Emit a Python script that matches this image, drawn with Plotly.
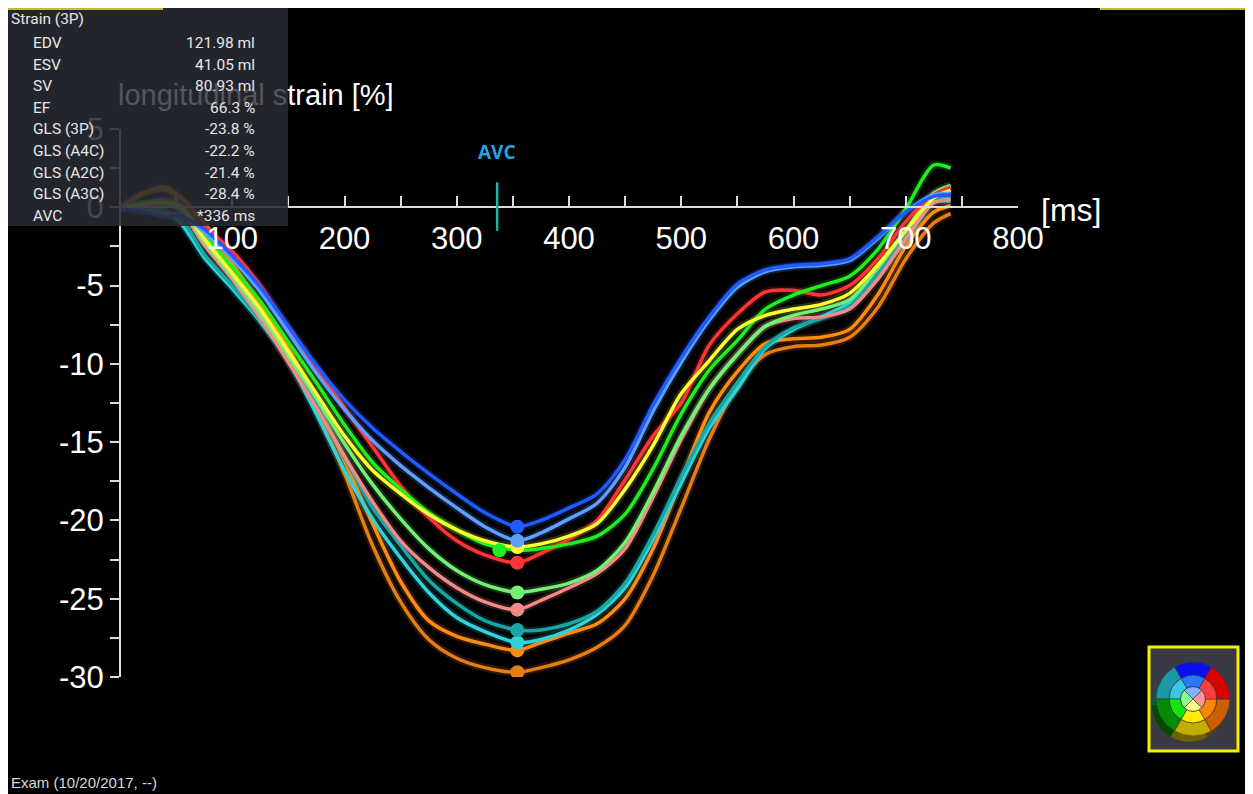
import plotly.graph_objects as go

# page body keeps an 8px margin, so the figure is sized to fit the viewport
PAGE_W, PAGE_H, BODY = 1253, 794, 8
W, H = PAGE_W - BODY, PAGE_H - BODY

# ---------------- data ----------------
time_ms = [0, 20, 40, 55, 75, 100, 125, 150, 175, 200, 225, 250, 275, 300, 325, 354,
           375, 400, 425, 450, 475, 500, 525, 550, 575, 600, 625, 650, 675, 700, 725, 740]

seg_names = ["dark orange", "orange", "cyan", "teal", "pink", "light green",
             "red", "green", "yellow", "light blue", "blue"]
seg_colors = ["#e67e14", "#ff8c10", "#2fd3dc", "#1aa5a5", "#f28a88", "#74f074",
              "#ff3434", "#1fee1f", "#ffff33", "#5f9fff", "#1f5bff"]

strain_dark_orange = [0, 0.8, 1.1, 0.4, -1.2, -3.8, -6.5, -9.4, -13.0, -17.0, -21.6, -25.2, -27.6, -28.8, -29.4, -29.7,
                      -29.4, -28.9, -28.1, -26.7, -23.5, -19.2, -14.8, -11.4, -9.4, -8.9, -8.8, -8.3, -6.4, -3.3, -1.0, -0.4]
strain_orange = [0, 0.9, 1.3, 0.6, -1.0, -3.6, -6.2, -9.0, -12.4, -16.2, -20.2, -23.9, -26.4, -27.4, -27.9, -28.3,
                 -27.8, -27.2, -26.6, -25.0, -21.8, -17.4, -13.1, -10.5, -8.7, -8.4, -8.3, -7.8, -5.6, -2.5, -0.3, 0.1]
strain_cyan = [0, -0.1, -0.3, -1.1, -3.2, -5.2, -7.3, -9.8, -13.2, -16.8, -19.9, -22.4, -24.6, -26.2, -27.1, -27.8,
               -27.6, -27.0, -26.0, -24.3, -21.2, -17.6, -14.1, -11.6, -9.0, -7.8, -7.0, -6.1, -4.4, -2.1, 0.3, 0.4]
strain_teal = [0, 0.0, -0.2, -0.8, -3.0, -5.0, -7.2, -9.5, -12.6, -16.0, -19.2, -21.6, -23.8, -25.3, -26.4, -27.0,
               -27.0, -26.6, -25.8, -24.0, -20.9, -17.2, -13.8, -11.2, -8.9, -7.7, -7.1, -6.3, -4.3, -1.8, 0.4, 0.6]
strain_pink = [0, 0.2, 0.3, -0.3, -2.4, -4.6, -7.1, -9.9, -12.8, -15.9, -18.8, -21.3, -23.0, -24.3, -25.2, -25.7,
               -25.1, -24.3, -23.4, -21.8, -18.5, -14.8, -11.6, -9.4, -7.6, -7.1, -7.0, -6.5, -4.6, -2.0, 0.3, 0.5]
strain_light_green = [0, 0.2, 0.2, -0.2, -2.2, -4.4, -6.8, -9.5, -12.2, -15.1, -17.7, -19.9, -21.8, -23.2, -24.1, -24.6,
                      -24.4, -24.0, -23.2, -21.4, -18.2, -14.6, -11.6, -9.4, -7.6, -6.9, -6.5, -5.9, -3.9, -1.5, 0.9, 1.4]
strain_red = [0, 0.3, 0.5, 0.3, -1.2, -2.8, -5.0, -7.7, -10.2, -12.8, -15.3, -17.8, -19.8, -21.3, -22.2, -22.7,
              -22.1, -21.2, -20.0, -17.4, -14.6, -12.5, -8.8, -6.8, -5.4, -5.3, -5.6, -5.0, -3.3, -0.9, 0.8, 1.3]
strain_green = [0, 0.3, 0.4, 0.1, -1.8, -3.8, -6.0, -8.6, -11.2, -13.9, -16.3, -18.0, -19.5, -20.6, -21.5, -21.9,
                -21.8, -21.5, -21.0, -19.6, -16.7, -13.2, -10.4, -8.5, -6.5, -5.6, -5.0, -4.4, -2.7, -0.1, 2.7, 2.5]
strain_yellow = [0, 0.2, 0.3, 0.0, -2.0, -4.2, -6.5, -9.2, -11.9, -14.6, -16.8, -18.3, -19.6, -20.6, -21.3, -21.7,
                 -21.5, -21.0, -20.2, -18.0, -15.2, -11.9, -9.8, -7.8, -6.9, -6.5, -6.2, -5.5, -3.7, -1.5, 0.6, 1.1]
strain_light_blue = [0, -0.2, -0.4, -0.5, -1.6, -3.3, -5.4, -8.0, -10.6, -12.9, -14.9, -16.5, -17.9, -19.2, -20.4, -21.3,
                     -20.8, -19.9, -18.9, -16.6, -13.0, -9.9, -7.2, -5.1, -4.1, -3.8, -3.7, -3.4, -2.0, -0.3, 0.8, 0.9]
strain_blue = [0, -0.3, -0.6, -0.6, -1.4, -3.1, -5.1, -7.6, -10.1, -12.3, -14.1, -15.6, -17.0, -18.3, -19.5, -20.4,
               -20.0, -19.2, -18.3, -16.1, -12.6, -9.6, -7.0, -4.9, -4.0, -3.7, -3.6, -3.3, -1.9, -0.3, 0.7, 0.8]

seg_strain = [strain_dark_orange, strain_orange, strain_cyan, strain_teal, strain_pink,
              strain_light_green, strain_red, strain_green, strain_yellow, strain_light_blue, strain_blue]

peak_ms = [354, 354, 354, 354, 354, 354, 354, 338, 354, 354, 354]
peak_strain = [-29.7, -28.3, -27.8, -27.0, -25.7, -24.6, -22.7, -21.9, -21.7, -21.3, -20.4]

avc_ms = 336

x_tick_vals = [50, 100, 150, 200, 250, 300, 350, 400, 450, 500, 550, 600, 650, 700, 750, 800]
x_tick_text = ["", "100", "", "200", "", "300", "", "400", "", "500", "", "600", "", "700", "", "800"]
y_tick_vals = [5, 2.5, 0, -2.5, -5, -7.5, -10, -12.5, -15, -17.5, -20, -22.5, -25, -27.5, -30]
y_tick_text = ["5", "", "0", "", "-5", "", "-10", "", "-15", "", "-20", "", "-25", "", "-30"]

info_title = "Strain (3P)"
info_labels = ["EDV", "ESV", "SV", "EF", "GLS (3P)", "GLS (A4C)", "GLS (A2C)", "GLS (A3C)", "AVC"]
info_values = ["121.98 ml", "41.05 ml", "80.93 ml", "66.3 %", "-23.8 %", "-22.2 %", "-21.4 %", "-28.4 %", "*336 ms"]

# bullseye segments (outer basal ring, mid ring, apical ring)
bull_outer_theta = [90, 150, 210, 270, 330, 30]
bull_outer_colors = ["#0a0ff0", "#1a9aa6", "#058a05", "#c4ac00", "#cc6000", "#d80000"]
bull_side_colors = ["#05087a", "#0d5560", "#034a03", "#6e6000", "#703500", "#760000"]
bull_mid_colors = ["#2a78ff", "#3cc8e4", "#10e610", "#ffec00", "#ff8400", "#ff3c3c"]
bull_apex_theta = [90, 180, 270, 0]
bull_apex_colors = ["#80b2ff", "#8cff8c", "#ffff8a", "#ff9494"]


# ---------------- helpers (screen pixel -> paper) ----------------
def px(x):
    return (x - BODY) / W


def py(y):
    return 1 - (y - BODY) / H


x_dom = [px(120), px(1018)]
y_dom = [py(677), py(129)]
y_range = [-30, 5]
x_range = [0, 800]
zero_pos = y_dom[0] + (0 - y_range[0]) / (y_range[1] - y_range[0]) * (y_dom[1] - y_dom[0])

fig = go.Figure()

for name, col, vals in zip(seg_names, seg_colors, seg_strain):
    fig.add_trace(go.Scatter(x=time_ms, y=vals, mode="lines", hoverinfo="skip",
                             line=dict(color=col, width=8, shape="spline", smoothing=0.8),
                             opacity=0.18, showlegend=False))
for name, col, vals in zip(seg_names, seg_colors, seg_strain):
    fig.add_trace(go.Scatter(x=time_ms, y=vals, mode="lines", name=name,
                             line=dict(color=col, width=3.5, shape="spline", smoothing=0.8),
                             showlegend=False))
for name, col, t, v in zip(seg_names, seg_colors, peak_ms, peak_strain):
    fig.add_trace(go.Scatter(x=[t], y=[v], mode="markers", name=name + " peak",
                             marker=dict(color=col, size=14, line=dict(width=0)),
                             showlegend=False))

# bullseye: darker "side" disc first (polar), then the face (polar2)
fig.add_trace(go.Barpolar(theta=bull_outer_theta, r=[36] * 6, base=[0] * 6, width=[60] * 6,
                          marker=dict(color=bull_side_colors, line=dict(width=0)),
                          subplot="polar", showlegend=False, hoverinfo="skip"))
fig.add_trace(go.Barpolar(theta=bull_outer_theta, r=[13] * 6, base=[23] * 6, width=[60] * 6,
                          marker=dict(color=bull_outer_colors, line=dict(color="#333333", width=0.6)),
                          subplot="polar2", showlegend=False, hoverinfo="skip"))
fig.add_trace(go.Barpolar(theta=bull_outer_theta, r=[11] * 6, base=[12] * 6, width=[60] * 6,
                          marker=dict(color=bull_mid_colors, line=dict(color="#333333", width=0.6)),
                          subplot="polar2", showlegend=False, hoverinfo="skip"))
fig.add_trace(go.Barpolar(theta=bull_apex_theta, r=[12] * 4, base=[0] * 4, width=[90] * 4,
                          marker=dict(color=bull_apex_colors, line=dict(color="#333333", width=0.6)),
                          subplot="polar2", showlegend=False, hoverinfo="skip"))

axis_col = "#dcdcdc"
tick_font = dict(family="Liberation Sans, Arial", size=31, color="#ffffff")

shapes = [
    dict(type="rect", xref="paper", yref="paper", x0=px(1149), x1=px(1238), y0=py(751), y1=py(647),
         fillcolor="#3a3a46", line=dict(color="#f2f200", width=3), layer="below"),
    dict(type="line", xref="x", yref="y", x0=avc_ms, x1=avc_ms, y0=-1.5, y1=1.6,
         line=dict(color="#1ab4a4", width=2.5), layer="above"),
    dict(type="rect", xref="paper", yref="paper", x0=px(8), x1=px(288), y0=py(226), y1=1,
         fillcolor="rgba(40,42,50,0.87)", line=dict(width=0), layer="above"),
    dict(type="rect", xref="paper", yref="paper", x0=0, x1=px(163), y0=py(10), y1=1,
         fillcolor="#c4bc2c", line=dict(width=0), layer="above"),
    dict(type="rect", xref="paper", yref="paper", x0=px(1100), x1=1, y0=py(10), y1=1,
         fillcolor="#c4bc2c", line=dict(width=0), layer="above"),
]

annotations = [
    dict(xref="paper", yref="paper", x=px(116), y=py(95), xanchor="left", yanchor="middle",
         text="<span style='color:#55565d'>longitudinal s</span>train [%]", showarrow=False,
         font=dict(family="Liberation Sans, Arial", size=29, color="#ffffff")),
    dict(xref="paper", yref="paper", x=px(1039), y=py(210), xanchor="left", yanchor="middle",
         text="[ms]", showarrow=False, font=dict(family="Liberation Sans, Arial", size=32, color="#ffffff")),
    dict(xref="x", yref="paper", x=avc_ms, y=py(152), xanchor="center", yanchor="middle",
         text="<b>AVC</b>", showarrow=False, font=dict(family="Open Sans, Lato", size=19, color="#1ea6e2")),
    dict(xref="paper", yref="paper", x=px(9), y=py(782), xanchor="left", yanchor="middle",
         text="Exam (10/20/2017, --)", showarrow=False,
         font=dict(family="Liberation Sans, Arial", size=15, color="#d8d8d8")),
    dict(xref="paper", yref="paper", x=px(9), y=py(19), xanchor="left", yanchor="middle",
         text=info_title, showarrow=False, font=dict(family="Roboto", size=15.5, color="#e6e6e6")),
]
row_y0, row_step = 43, 21.6
for i, (lab, val) in enumerate(zip(info_labels, info_values)):
    yy = py(row_y0 + i * row_step)
    annotations.append(dict(xref="paper", yref="paper", x=px(31), y=yy, xanchor="left", yanchor="middle",
                            text=lab, showarrow=False, font=dict(family="Roboto", size=15.5, color="#e6e6e6")))
    annotations.append(dict(xref="paper", yref="paper", x=px(257), y=yy, xanchor="right", yanchor="middle",
                            text=val, showarrow=False, font=dict(family="Roboto", size=15.5, color="#e6e6e6")))

hidden_polar = dict(bgcolor="rgba(0,0,0,0)",
                    radialaxis=dict(visible=False, range=[0, 36]),
                    angularaxis=dict(visible=False))

fig.update_layout(
    width=W, height=H,
    margin=dict(l=0, r=0, t=0, b=0, pad=0, autoexpand=False),
    paper_bgcolor="#000000",
    plot_bgcolor="rgba(0,0,0,0)",
    showlegend=False,
    xaxis=dict(domain=x_dom, range=x_range, anchor="free", position=zero_pos, automargin=False,
               showline=True, linecolor=axis_col, linewidth=2, showgrid=False, zeroline=False,
               tickmode="array", tickvals=x_tick_vals, ticktext=x_tick_text,
               ticks="inside", ticklen=10, tickwidth=2, tickcolor=axis_col,
               ticklabelstandoff=4, tickfont=tick_font),
    yaxis=dict(domain=y_dom, range=y_range, anchor="free", position=x_dom[0], automargin=False,
               showline=True, linecolor=axis_col, linewidth=2, showgrid=False, zeroline=False,
               tickmode="array", tickvals=y_tick_vals, ticktext=y_tick_text,
               ticks="outside", ticklen=9, tickwidth=2, tickcolor=axis_col,
               tickfont=tick_font),
    polar=dict(domain=dict(x=[px(1152), px(1226)], y=[py(742), py(668)]), **hidden_polar),
    polar2=dict(domain=dict(x=[px(1156), px(1230)], y=[py(736), py(662)]), **hidden_polar),
    shapes=shapes,
    annotations=annotations,
)

fig.write_html("out.html")
